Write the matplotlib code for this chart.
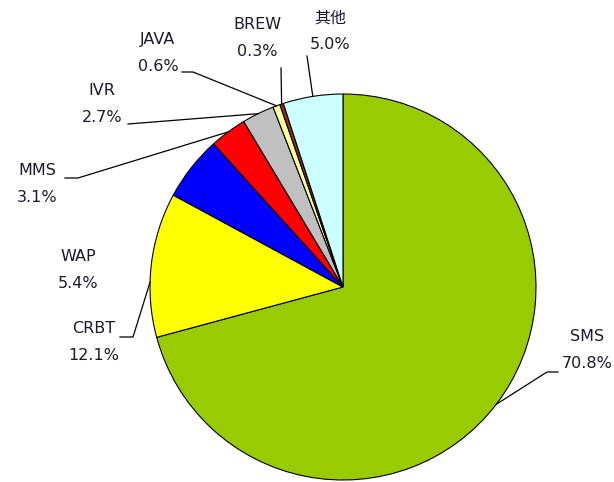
import numpy as np
import matplotlib.pyplot as plt

# Data
labels = ["SMS", "CRBT", "WAP", "MMS", "IVR", "JAVA", "BREW", "其他"]
shares = [70.8, 12.1, 5.4, 3.1, 2.7, 0.6, 0.3, 5.0]
colors = ["#99CC00", "#FFFF00", "#0000FF", "#FF0000", "#C0C0C0",
          "#FFFF99", "#993300", "#CCFFFF"]

W, H = 614, 482
cx, cy, r = 343, 287, 193  # pie centre / radius in pixel coords

# label layout: text centre (pixel coords, y down)
label_pos = {
    "SMS":  (587, 350), "CRBT": (94, 342), "WAP": (78, 270),
    "MMS":  (37, 184),  "IVR":  (102, 104), "JAVA": (158, 53),
    "BREW": (257, 38),  "其他": (330, 31),
}
# leader lines: start + elbow points, and where along the wedge they land
leaders = {
    "SMS":  ([(558, 372), (547, 372)], 0.5),
    "CRBT": ([(120, 337), (133, 337)], 0.62),
    "MMS":  ([(65, 178), (78, 178)], 0.5),
    "IVR":  ([(128, 124)], 0.5),
    "JAVA": ([(182, 72), (193, 72)], 0.5),
    "BREW": ([(281, 68)], 0.5),
    "其他": ([(307, 56)], 0.5),
}

fig = plt.figure(figsize=(W / 100, H / 100), dpi=100)
ax = fig.add_axes([0, 0, 1, 1])
ax.set_aspect("equal")
ax.axis("off")

wedges, _ = ax.pie(shares, colors=colors, startangle=90, counterclock=False,
                   center=(cx, H - cy), radius=r,
                   wedgeprops=dict(edgecolor="black", linewidth=0.8))
ax.set_xlim(0, W)
ax.set_ylim(0, H)

fonts = ["DejaVu Sans", "Noto Sans CJK SC"]
for w, lab, val in zip(wedges, labels, shares):
    tx, ty = label_pos[lab]
    ax.text(tx, H - ty, f"{lab}\n{val:.1f}%", ha="center", va="center",
            fontsize=11.5, linespacing=1.95, color="#1a1a2e", family=fonts)
    if lab in leaders:
        pts, frac = leaders[lab]
        ang = np.deg2rad(w.theta1 + frac * (w.theta2 - w.theta1))
        px = cx + r * np.cos(ang)
        py = (H - cy) + r * np.sin(ang)
        xy = [(x, H - y) for x, y in pts] + [(px, py)]
        xs, ys = zip(*xy)
        ax.plot(xs, ys, color="black", linewidth=0.9)

fig.savefig("out.png", dpi=100)
